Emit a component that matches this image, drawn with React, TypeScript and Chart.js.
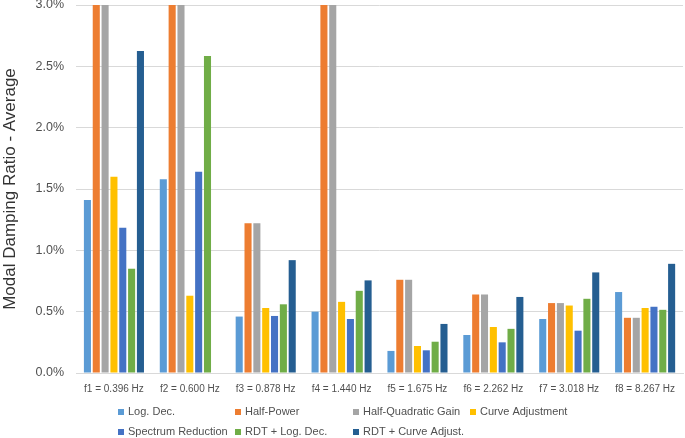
import React, { useEffect, useRef } from "react";
import { Chart, registerables } from "chart.js";

Chart.register(...registerables);

// ---- Data (percent) ----
const categories = [
  "f1 = 0.396 Hz",
  "f2 = 0.600 Hz",
  "f3 = 0.878 Hz",
  "f4 = 1.440 Hz",
  "f5 = 1.675 Hz",
  "f6 = 2.262 Hz",
  "f7 = 3.018 Hz",
  "f8 = 8.267 Hz",
];

const seriesNames = [
  "Log. Dec.",
  "Half-Power",
  "Half-Quadratic Gain",
  "Curve Adjustment",
  "Spectrum Reduction",
  "RDT + Log. Dec.",
  "RDT + Curve Adjust.",
];

const seriesColors = ["#5B9BD5", "#ED7D31", "#A5A5A5", "#FFC000", "#4472C4", "#70AD47", "#255E91"];

// values above 3.0% are off the top of the axis in the original (clipped)
const logDec = [1.41, 1.58, 0.46, 0.5, 0.18, 0.31, 0.44, 0.66];
const halfPower = [3.6, 3.6, 1.22, 3.6, 0.76, 0.64, 0.57, 0.45];
const halfQuadraticGain = [3.6, 3.6, 1.22, 3.6, 0.76, 0.64, 0.57, 0.45];
const curveAdjustment = [1.6, 0.63, 0.53, 0.58, 0.22, 0.375, 0.55, 0.53];
const spectrumReduction = [1.185, 1.64, 0.465, 0.44, 0.185, 0.25, 0.345, 0.54];
const rdtLogDec = [0.85, 2.585, 0.56, 0.67, 0.255, 0.36, 0.605, 0.515];
const rdtCurveAdjust = [2.625, null, 0.92, 0.755, 0.4, 0.62, 0.82, 0.89];

const yMin = 0;
const yMax = 3;
const yStep = 0.5;
const yTitle = "Modal Damping Ratio - Average";

const FONT = '"Liberation Sans", Arial, sans-serif';

const gridLegend = {
  id: "gridLegend",
  afterDraw(chart: any) {
    const ctx = chart.ctx as CanvasRenderingContext2D;
    ctx.save();
    ctx.font = `11px ${FONT}`;
    const box = 6;
    const gap = 4;
    const spacing = 6;
    const cols = 4;
    const items = chart.data.datasets.map((d: any) => ({ label: d.label as string, color: d.backgroundColor as string }));
    const maxW = Math.max(...items.map((i: any) => ctx.measureText(i.label).width));
    const colW = box + gap + maxW + spacing;
    const total = cols * colW - spacing;
    const x0 = (chart.width - total) / 2 + 7;
    const rowY = [chart.height - 26, chart.height - 6];
    items.forEach((it: any, i: number) => {
      const c = i % cols;
      const r = Math.floor(i / cols);
      const x = Math.round(x0 + c * colW);
      const y = rowY[r];
      ctx.fillStyle = it.color;
      ctx.fillRect(x, Math.round(y - box / 2), box, box);
      ctx.fillStyle = "#505050";
      ctx.textBaseline = "middle";
      ctx.textAlign = "left";
      ctx.fillText(it.label, x + box + gap, y);
    });
    ctx.restore();
  },
};

export default function App() {
  const ref = useRef<HTMLCanvasElement | null>(null);

  useEffect(() => {
    if (!ref.current) return;
    const seriesData = [
      logDec,
      halfPower,
      halfQuadraticGain,
      curveAdjustment,
      spectrumReduction,
      rdtLogDec,
      rdtCurveAdjust,
    ];
    const chart = new Chart(ref.current, {
      type: "bar",
      data: {
        labels: categories,
        datasets: seriesNames.map((name, i) => ({
          label: name,
          data: seriesData[i] as any,
          backgroundColor: seriesColors[i],
          borderWidth: 0,
          barPercentage: 0.8,
          categoryPercentage: 0.815,
          clip: 0 as any,
        })),
      },
      options: {
        animation: false,
        responsive: true,
        maintainAspectRatio: false,
        layout: { padding: { top: 5, right: 0, bottom: 43, left: 0 } },
        plugins: {
          legend: { display: false },
          tooltip: { enabled: false },
        },
        scales: {
          x: {
            grid: { display: false, drawTicks: false },
            border: { display: true, color: "#D9D9D9", width: 1 },
            ticks: {
              color: "#505050",
              font: { family: FONT, size: 10 },
              padding: 10,
              maxRotation: 0,
              autoSkip: false,
            },
            afterFit(scale: any) {
              scale.height = 22;
            },
          },
          y: {
            min: yMin,
            max: yMax,
            grid: { color: "#D9D9D9", lineWidth: 1, drawTicks: false },
            border: { display: false },
            ticks: {
              stepSize: yStep,
              color: "#505050",
              font: { family: FONT, size: 12.5 },
              padding: 12,
              callback: (v: any) => `${Number(v).toFixed(1)}%`,
            },
            title: {
              display: true,
              text: yTitle,
              color: "#333333",
              font: { family: FONT, size: 17 },
              padding: { top: 0, bottom: 0 },
            },
            afterFit(scale: any) {
              scale.width = 76;
              scale.paddingTop = 0;
              scale.paddingBottom = 0;
            },
          },
        },
      },
      plugins: [gridLegend],
    });
    return () => chart.destroy();
  }, []);

  return (
    <div style={{ position: "absolute", left: 0, top: 0, width: 685, height: 438, background: "#fff" }}>
      <canvas ref={ref} />
    </div>
  );
}
